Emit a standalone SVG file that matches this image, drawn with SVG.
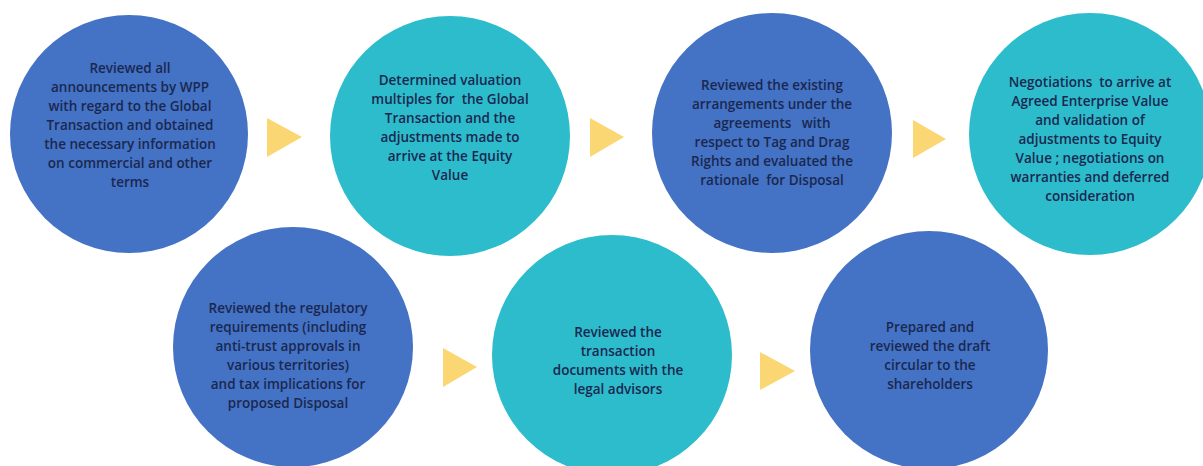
<svg xmlns="http://www.w3.org/2000/svg" width="1203" height="466" viewBox="0 0 1203 466">
<style>
.blue{fill:#4472C4}
.teal{fill:#2DBCCC}
.arrow{fill:#FBD774}
text{font-family:"Open Sans","Liberation Sans",sans-serif;font-size:13.5px;font-weight:600;fill:#1A2850;text-anchor:middle;white-space:pre}
</style>
<rect width="1203" height="466" fill="#ffffff"/>
<g id="connectors">
<polygon class="arrow" points="267,118 302,137 267,157"/>
<polygon class="arrow" points="590,118 624,137 590,157"/>
<polygon class="arrow" points="913,120 946,139 913,158"/>
<polygon class="arrow" points="443,348 477,367 443,387"/>
<polygon class="arrow" points="760,352 795,371 760,390"/>
</g>
<g id="node1">
<circle class="blue" cx="129" cy="134" r="119"/>
<text x="130" y="73">Reviewed all</text>
<text x="130" y="92">announcements by WPP</text>
<text x="130" y="111">with regard to the Global</text>
<text x="130" y="130">Transaction and obtained</text>
<text x="130" y="149">the necessary information</text>
<text x="130" y="168">on commercial and other</text>
<text x="130" y="187">terms</text>
</g>
<g id="node2">
<circle class="teal" cx="450" cy="136" r="120"/>
<text x="450" y="85">Determined valuation</text>
<text x="450" y="104" xml:space="preserve">multiples for  the Global</text>
<text x="450" y="123">Transaction and the</text>
<text x="450" y="142">adjustments made to</text>
<text x="450" y="161">arrive at the Equity</text>
<text x="450" y="180">Value</text>
</g>
<g id="node3">
<circle class="blue" cx="772" cy="133" r="120"/>
<text x="772" y="90">Reviewed the existing</text>
<text x="772" y="109">arrangements under the</text>
<text x="772" y="128" xml:space="preserve">agreements   with</text>
<text x="772" y="147">respect to Tag and Drag</text>
<text x="772" y="166">Rights and evaluated the</text>
<text x="772" y="185" xml:space="preserve">rationale  for Disposal</text>
</g>
<g id="node4">
<circle class="teal" cx="1090" cy="134" r="121"/>
<text x="1090" y="87" xml:space="preserve">Negotiations  to arrive at</text>
<text x="1090" y="106">Agreed Enterprise Value</text>
<text x="1090" y="125">and validation of</text>
<text x="1090" y="144">adjustments to Equity</text>
<text x="1090" y="163">Value ; negotiations on</text>
<text x="1090" y="182">warranties and deferred</text>
<text x="1090" y="201">consideration</text>
</g>
<g id="node5">
<circle class="blue" cx="293" cy="347" r="120"/>
<text x="288" y="313">Reviewed the regulatory</text>
<text x="288" y="332">requirements (including</text>
<text x="288" y="351">anti-trust approvals in</text>
<text x="288" y="370">various territories)</text>
<text x="288" y="389">and tax implications for</text>
<text x="288" y="408">proposed Disposal</text>
</g>
<g id="node6">
<circle class="teal" cx="612" cy="355" r="120"/>
<text x="618" y="337">Reviewed the</text>
<text x="618" y="356">transaction</text>
<text x="618" y="375">documents with the</text>
<text x="618" y="394">legal advisors</text>
</g>
<g id="node7">
<circle class="blue" cx="929" cy="350" r="119"/>
<text x="930" y="332">Prepared and</text>
<text x="930" y="351">reviewed the draft</text>
<text x="930" y="370">circular to the</text>
<text x="930" y="389">shareholders</text>
</g>
</svg>
